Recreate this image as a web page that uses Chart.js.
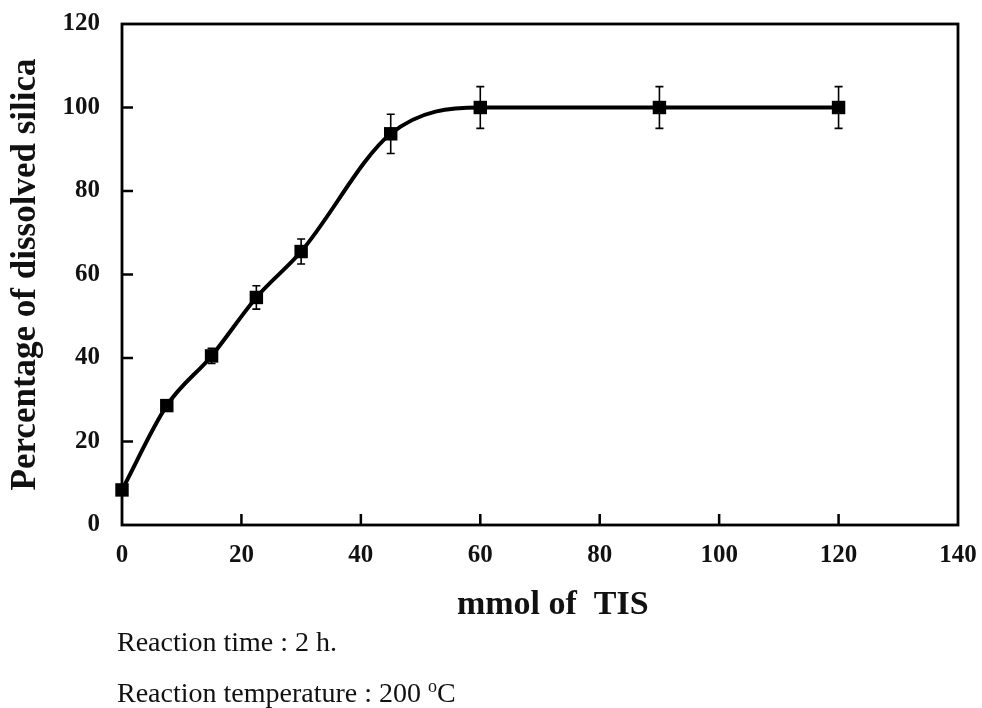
<!DOCTYPE html>
<html>
<head>
<meta charset="utf-8">
<script src="https://cdn.jsdelivr.net/npm/chart.js@4/dist/chart.umd.min.js"></script>
<style>
  html, body { margin: 0; padding: 0; background: #fff; }
  #wrap { position: relative; width: 982px; height: 708px; }
  .note { position: absolute; left: 117px; font: 28px "Liberation Serif", serif; line-height: 28px; color: #111; white-space: nowrap; }
</style>
</head>
<body>
<div id="wrap">
  <canvas id="chart" width="982" height="708"></canvas>
  <div class="note" style="top:628px">Reaction time : 2 h.</div>
  <div class="note" style="top:672px">Reaction temperature : 200 <sup style="font-size:18px">o</sup>C</div>
</div>
<script>
// Data
const tisMmol = [0, 7.5, 15, 22.5, 30, 45, 60, 90, 120];
const dissolved = [8.4, 28.6, 40.5, 54.5, 65.5, 93.7, 100, 100, 100];
const errors = [0, 1, 1.8, 2.8, 3, 4.7, 5, 5, 5];
const xTicks = [0, 20, 40, 60, 80, 100, 120, 140];
const yTicks = [0, 20, 40, 60, 80, 100, 120];

const FONT = '"Liberation Serif", "Times New Roman", serif';

// frame, inward ticks and error bars
const decor = {
  id: 'decor',
  beforeDatasetsDraw(chart) {
    const { ctx, chartArea: a, scales: { x, y } } = chart;
    ctx.save();
    ctx.strokeStyle = '#000';
    // ticks pointing inward
    ctx.lineWidth = 2.5;
    ctx.beginPath();
    xTicks.slice(1, -1).forEach(t => {
      const px = x.getPixelForValue(t);
      ctx.moveTo(px, a.bottom); ctx.lineTo(px, a.bottom - 11);
    });
    yTicks.slice(1, -1).forEach(t => {
      const py = y.getPixelForValue(t);
      ctx.moveTo(a.left, py); ctx.lineTo(a.left + 11, py);
    });
    ctx.stroke();
    // box
    ctx.lineWidth = 2.8;
    ctx.strokeRect(a.left, a.top, a.right - a.left, a.bottom - a.top);
    ctx.restore();
  },
  afterDatasetsDraw(chart) {
    const { ctx, scales: { x, y } } = chart;
    ctx.save();
    ctx.strokeStyle = '#000';
    ctx.lineWidth = 1.6;
    tisMmol.forEach((v, i) => {
      if (!errors[i]) return;
      const px = x.getPixelForValue(v);
      const top = y.getPixelForValue(dissolved[i] + errors[i]);
      const bot = y.getPixelForValue(dissolved[i] - errors[i]);
      ctx.beginPath();
      ctx.moveTo(px, top); ctx.lineTo(px, bot);
      ctx.moveTo(px - 4, top); ctx.lineTo(px + 4, top);
      ctx.moveTo(px - 4, bot); ctx.lineTo(px + 4, bot);
      ctx.stroke();
    });
    ctx.restore();
  }
};

new Chart(document.getElementById('chart'), {
  type: 'line',
  data: {
    datasets: [{
      data: tisMmol.map((v, i) => ({ x: v, y: dissolved[i] })),
      borderColor: '#000',
      borderWidth: 4,
      backgroundColor: '#000',
      pointStyle: 'rect',
      pointRadius: 9.5,
      pointBorderWidth: 0,
      cubicInterpolationMode: 'monotone',
      clip: false,
      fill: false
    }]
  },
  options: {
    responsive: false,
    animation: false,
    layout: { autoPadding: false, padding: { top: 24, right: 24, bottom: 0, left: 0 } },
    plugins: { legend: { display: false }, tooltip: { enabled: false } },
    scales: {
      x: {
        type: 'linear',
        min: 0, max: 140,
        // fixed axis size, no label overflow padding
        afterFit: s => { s.height = 183; s.paddingLeft = 0; s.paddingRight = 0; },
        afterBuildTicks: s => { s.ticks = xTicks.map(v => ({ value: v })); },
        grid: { display: false, drawTicks: false },
        border: { display: false },
        ticks: { color: '#111', padding: 16, font: { family: FONT, size: 25, weight: 'bold' } },
        title: {
          display: true,
          text: '   mmol of  TIS',
          color: '#111',
          padding: { top: 0, bottom: 82 },
          font: { family: FONT, size: 34, weight: 'bold' }
        }
      },
      y: {
        min: 0, max: 120,
        afterFit: s => { s.width = 122; s.paddingTop = 0; s.paddingBottom = 0; },
        afterBuildTicks: s => { s.ticks = yTicks.map(v => ({ value: v })); },
        grid: { display: false, drawTicks: false },
        border: { display: false },
        ticks: { color: '#111', padding: 22, font: { family: FONT, size: 25, weight: 'bold' } },
        title: {
          display: true,
          text: 'Percentage of dissolved silica',
          color: '#111',
          padding: { top: 5, bottom: 0 },
          font: { family: FONT, size: 35, weight: 'bold' }
        }
      }
    }
  },
  plugins: [decor]
});
</script>
</body>
</html>
